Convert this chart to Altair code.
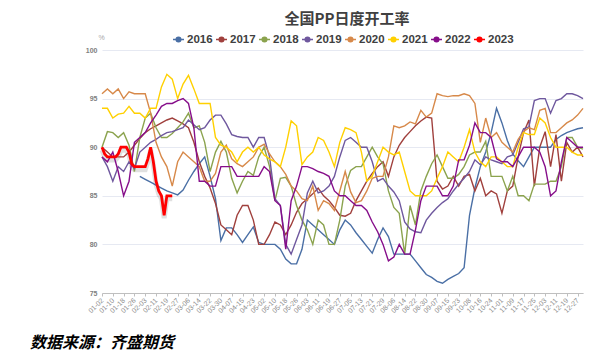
import altair as alt
import pandas as pd

title_text = "全国PP日度开工率"
source_text = "数据来源：齐盛期货"

x_labels = ["01-02", "01-10", "01-18", "01-26", "02-03", "02-11", "02-19", "02-27",
            "03-06", "03-14", "03-22", "03-30", "04-07", "04-15", "04-23", "05-02",
            "05-10", "05-18", "05-26", "06-03", "06-11", "06-19", "06-27", "07-05",
            "07-13", "07-21", "07-29", "08-06", "08-14", "08-22", "08-30", "09-07",
            "09-15", "09-23", "10-08", "10-16", "10-24", "11-01", "11-09", "11-17",
            "11-25", "12-03", "12-11", "12-19", "12-27"]

years = ["2016", "2017", "2018", "2019", "2020", "2021", "2022", "2023"]
colors = ["#4A6FA5", "#A0403D", "#8BA34E", "#6F589E", "#D7894A", "#FFD000", "#860E8A", "#FF0000"]

# sample positions (in units of x-axis label steps)
pos = [i * 0.5 for i in range(90)]

v2016 = [None, None, None, None, None, None, None, 87, 86.7, 86.4,
         86.1, 85.8, 85.5, 85.3, 85.1, 85.6, 86.6, 87.5, 88.3, 89,
         87, 84.7, 80.4, 81.7, 81.7, 81, 80.2, 81, 81.8, 80.2,
         80, 80, 80, 79.5, 78.5, 78, 78, 79.5, 82.5, 82,
         81.5, 81, 80.5, 80, 81.5, 82.5, 82, 81.2, 80.5, 79.8,
         79.1, 80.5, 81.7, 80.8, 79, 79, 79, 79, 78.3, 77.6,
         76.9, 76.6, 76.2, 76, 76.4, 76.7, 77, 77.6, 83, 85.8,
         88, 89.5, 91.5, 94, 92.5, 90.7, 89.3, 88.6, 88, 89,
         90, 90, 90, 90, 90.8, 91.2, 91.5, 91.7, 91.9, 92]

v2017 = [90, 89.5, 89, 89, 89, 89.5, 90.2, 90.9, 91.5, 91.9,
         92.2, 92.5, 92.8, 93, 92.7, 92.4, 92, 90.5, 88.5, 87,
         85.8, 84.2, 82, 81.5, 81, 83, 84, 84, 82.5, 80,
         80, 81, 82.3, 82, 81, 82, 83.3, 84.2, 84.7, 85.2,
         85.8, 85, 84.5, 83.8, 83, 82.9, 83.2, 84.5, 85.5, 86.5,
         87.3, 88, 88.5, 87, 89, 90.2, 91, 91.6, 92.2, 92.7,
         93.1, 93, 86.5, 85.7, 86, 87, 86, 87, 87.2, 85.5,
         86.8, 85, 85.5, 85.2, 83.2, 85.5, 86, 89, 91.5, 92.8,
         86, 90, 91.6, 88, 91.3, 86.5, 90.5, 89.5, 90, 89]

v2018 = [90, 91.6, 91.5, 91, 91.5, 90.2, 87.5, 91, 93, 93.5,
         92, 91, 91, 91.4, 92, 92.6, 93.5, 92, 92.2, 90.5,
         87.5, 89.5, 90.6, 89.5, 86.8, 85.3, 86.5, 87.5, 87.1, 89,
         90, 88, 84.5, 86.8, 86.9, 86, 84, 82.5, 81.5, 80,
         82.5, 82, 80, 80, 82.5, 86, 87.6, 88, 88, 89,
         90, 89, 88.3, 85.5, 83.8, 83.2, 79, 84, 82, 85.5,
         87, 88.3, 89.2, 88, 86.8, 86.8, 87.2, 88, 89.2, 89.5,
         89.5, 90.6, 87, 87, 87, 85.5, 87, 85, 85, 84.5,
         86.2, 86.2, 86.2, 86.5, 86.5, 88, 91, 91, 90, 89.8]

v2019 = [89, 88, 86.5, 88, 87.5, 88.5, 87.8, 89.5, 90, 90.5,
         90.8, 91.2, 91.5, 91.6, 91.8, 92, 92.8, 92.3, 91.8, 92,
         92.8, 93.3, 93.3, 92.4, 91.3, 91.1, 91, 91, 90, 91,
         91, 89, 84.7, 84, 80, 79, 80.5, 82, 85.3, 86.5,
         85.3, 85.5, 86, 87, 89, 90.7, 91, 90.5, 90, 90,
         88.5, 86.5, 86.8, 86, 85.4, 84.5, 82.3, 81.6, 81.3, 81.2,
         82.5, 83.2, 83.8, 84.3, 84.7, 85.5, 86.2, 86.8, 87.5, 88.7,
         88.2, 89, 88.7, 88.5, 88.3, 89, 89.2, 90.5, 91.9, 92.1,
         94.8, 95, 95, 93.5, 94.8, 95, 95.5, 95.5, 95.3, 95]

v2020 = [95.5, 96, 95.5, 96, 95, 95.7, 95.5, 95.5, 95.5, 93.5,
         90.5, 89, 88, 86, 88.5, 89.5, 89, 88.5, 88, 86.5,
         86.5, 87.3, 89.5, 90.2, 88.8, 88.3, 88, 88.5, 89, 90,
         90.3, 89.3, 88.5, 88, 87.2, 86, 85.5, 84.7, 84.5, 86,
         83.5, 84.5, 84.2, 83.5, 85.5, 87.5, 85.4, 84.3, 84.5, 85.5,
         86.8, 87, 87, 89, 92.2, 92, 92.2, 92.6, 92.4, 93.8,
         93.1, 93.5, 95.5, 95.3, 95.2, 95.3, 95.3, 95.5, 95.3, 94.5,
         90.5, 93, 91, 91.5, 90.5, 90, 89.5, 90.8, 91.6, 92,
         91.8, 93.8, 94, 91.5, 91.5, 92, 92.5, 92.8, 93.3, 94]

v2021 = [94, 94, 93, 93.4, 93.5, 94.2, 93.5, 93.5, 93, 94,
         94, 96.2, 97.5, 97, 95, 96.5, 97.4, 96, 94.5, 94.5,
         94.5, 91, 90.2, 90, 89.5, 88.5, 89.5, 90, 89.5, 90,
         89.2, 88.8, 88.5, 88, 90, 92.7, 92.2, 88.2, 89, 89.5,
         91, 90.7, 89.5, 88, 90.5, 92, 91.8, 91.5, 89.5, 86.5,
         87, 88.5, 90, 89.5, 89.2, 89.5, 87.5, 85.5, 85, 85,
         85, 85.5, 86.8, 88, 89.5, 89, 88.5, 90, 91.8, 89.5,
         88.5, 88, 89, 89, 88.5, 88, 88, 90, 91.5, 91.3,
         91.3, 93, 92.5, 91, 90, 90, 90, 89.5, 89.2, 89.2]

v2022 = [89, 88.5, 89.5, 87.5, 85, 86.5, 90.5, 91, 91.5, 92.5,
         93.3, 94.2, 94.5, 94.5, 94.8, 95, 94.5, 92, 86.5, 86.5,
         86, 86, 88, 88, 88, 87, 87, 87, 87, 87,
         88, 87.5, 84.5, 84, 79.5, 84.5, 86, 88, 88, 87.8,
         87.5, 87.3, 87, 85.5, 85, 85, 84.5, 84, 84, 83.5,
         82.3, 81.3, 80, 78.3, 78.7, 80, 79, 79, 81.5, 84.5,
         86, 86, 86, 85, 85, 86, 88.7, 88.7, 90.2, 92.5,
         91.5, 91.5, 91, 88.8, 88.5, 88.5, 88, 89, 90, 90,
         90, 89.5, 88, 85, 85.5, 88.5, 91, 90.5, 90, 90]

pos2023 = [i * 0.25 for i in range(27)]
v2023 = [90, 89.3, 89, 89, 89, 89, 89.3, 90, 90, 90,
         89.5, 88.3, 88, 88, 88, 88, 88, 88.8, 90, 88.5,
         86.5, 85.5, 85, 83, 85, 85, 85]

series = {"2016": v2016, "2017": v2017, "2018": v2018, "2019": v2019,
          "2020": v2020, "2021": v2021, "2022": v2022}

rows = []
for yr, vals in series.items():
    for p, v in zip(pos, vals):
        if v is not None:
            rows.append({"pos": p, "rate": v, "year": yr})
df_main = pd.DataFrame(rows)
df_2023 = pd.DataFrame({"pos": pos2023, "rate": v2023, "year": "2023"})

W, H = 481, 243
label_js = "[" + ",".join("'" + s + "'" for s in x_labels) + "][datum.value]"

x_enc = alt.X(
    "pos:Q",
    scale=alt.Scale(domain=[0, 44.5], nice=False, zero=False),
    axis=alt.Axis(values=list(range(len(x_labels))), labelExpr=label_js, labelAngle=-45,
                  labelAlign="right", labelBaseline="middle", labelFontSize=7,
                  labelFont="Liberation Sans", labelColor="#8C8C8C", labelPadding=3,
                  labelOverlap=False, tickSize=3, tickColor="#BFBFBF",
                  domainColor="#BFBFBF", grid=False, title=None),
)
y_enc = alt.Y(
    "rate:Q",
    scale=alt.Scale(domain=[75, 100], nice=False, zero=False),
    axis=alt.Axis(values=[75, 80, 85, 90, 95, 100], title="%", titleAngle=0, titleX=-1,
                  titleY=-13, titleAlign="center", titleBaseline="middle", titleFontSize=7,
                  titleFont="Liberation Sans", titleColor="#A6A6A6", titleFontWeight="normal",
                  labelFontSize=7, labelFont="Liberation Sans", labelFontWeight="bold",
                  labelColor="#808080", labelPadding=5, ticks=False, domain=False,
                  grid=True, gridColor="#E6E9F2", gridWidth=1),
)

symbol_path = ("M-1,0H1M0.42,0A0.42,0.42,0,1,1,-0.42,0A0.42,0.42,0,1,1,0.42,0"
               "M0.2,0A0.2,0.2,0,1,1,-0.2,0A0.2,0.2,0,1,1,0.2,0")

color_enc = alt.Color(
    "year:N",
    scale=alt.Scale(domain=years, range=colors),
    legend=alt.Legend(title=None, orient="none", legendX=70, legendY=-17,
                      direction="horizontal", columns=8, symbolType=symbol_path,
                      symbolSize=121, symbolStrokeWidth=1.5, labelFont="Liberation Sans",
                      labelFontSize=11.5, labelFontWeight="bold", labelColor="#404040",
                      labelOffset=2, columnPadding=0, padding=0, gridAlign="all"),
)

shadow = alt.Chart(df_2023).mark_line(color="#000000", opacity=0.12, strokeWidth=5,
                                      yOffset=3).encode(x=x_enc, y=y_enc)
lines = alt.Chart(df_main).mark_line(strokeWidth=1.4).encode(x=x_enc, y=y_enc, color=color_enc)
line23 = alt.Chart(df_2023).mark_line(strokeWidth=2.8).encode(x=x_enc, y=y_enc, color=color_enc)

title = alt.Chart(pd.DataFrame({"t": [title_text]})).mark_text(
    font="Noto Sans CJK SC", fontSize=15, fontWeight="bold", color="#404040",
    align="center", baseline="middle"
).encode(text="t:N", x=alt.value(245), y=alt.value(-31))

footer = alt.Chart(pd.DataFrame({"t": [source_text]})).mark_text(
    font="Noto Sans CJK SC", fontSize=16, fontWeight="bold", fontStyle="italic",
    color="#000000", align="left", baseline="alphabetic"
).encode(text="t:N", x=alt.value(-72), y=alt.value(298))

chart = alt.layer(shadow, lines, line23, title, footer).properties(
    width=W, height=H,
    padding={"left": 94, "top": 42, "right": 10, "bottom": 62},
    autosize=alt.AutoSizeParams(type="none"),
    background="#FFFFFF",
).configure_view(stroke=None)

chart.save("out.html", embed_options={"renderer": "svg", "actions": False})
